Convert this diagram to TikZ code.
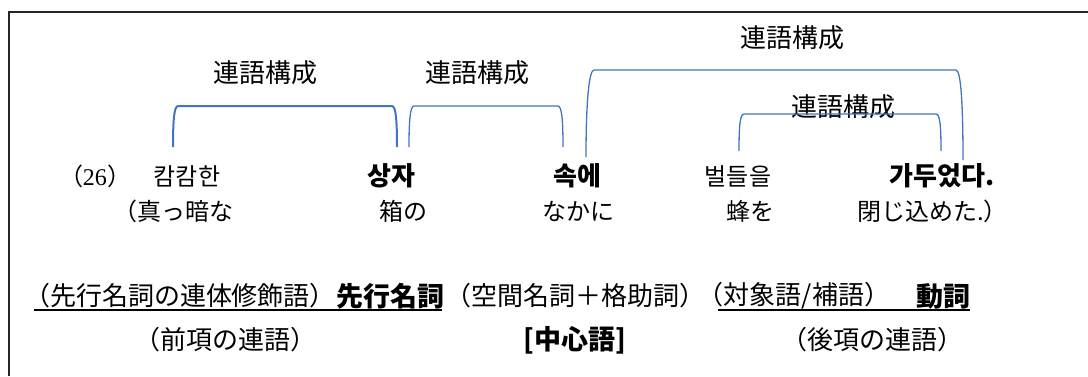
\documentclass[tikz,border=0pt]{standalone}
\usepackage{fontspec}
\newfontfamily\jp{Noto Sans CJK JP}
\newfontfamily\kr{Noto Sans CJK KR}
\newfontfamily\ser{Liberation Serif}
\definecolor{brblue}{HTML}{4472C4}
\begin{document}
\begin{tikzpicture}[x=1pt,y=-1pt,
  lbl/.style={inner sep=0pt, font=\jp\fontsize{26}{26}\selectfont},
  krr/.style={inner sep=0pt, font=\kr\fontsize{24}{24}\selectfont},
  krb/.style={inner sep=0pt, font=\kr\bfseries\fontsize{26}{26}\selectfont},
  jpt/.style={inner sep=0pt, font=\jp\fontsize{24}{24}\selectfont},
  jpr/.style={inner sep=0pt, font=\jp\fontsize{26}{26}\selectfont},
  jpb/.style={inner sep=0pt, font=\jp\bfseries\fontsize{27}{27}\selectfont},
  brk/.style={draw=brblue, line width=1.3pt},
  uline/.style={line width=1.8pt},
  frame/.style={line width=1.3pt, draw=black!85}]
\useasboundingbox (0,0) rectangle (1088,376);
% frame
\coordinate (fb) at (9,376); \coordinate (fc) at (9,12); \coordinate (fr) at (1088,12);
\draw[frame] (fb) -- (fc) -- (fr);
% labels
\node[lbl] (l1) at (265,73) {連語構成};
\node[lbl] (l2) at (477,73) {連語構成};
\node[lbl] (l3) at (792,38) {連語構成};
\node[lbl] (l4) at (843,107) {連語構成};
% brackets
\coordinate (b1a) at (173,147); \coordinate (b1b) at (178,106);
\coordinate (b1c) at (392,106); \coordinate (b1d) at (397,147);
\draw[brk, line width=2pt] (b1a) .. controls +(0,-25) and +(-4,0) .. (b1b) -- (b1c) .. controls +(4,0) and +(0,-25) .. (b1d);
\coordinate (b2a) at (409,147); \coordinate (b2b) at (414,106);
\coordinate (b2c) at (558,106); \coordinate (b2d) at (563,147);
\draw[brk] (b2a) .. controls +(0,-25) and +(-4,0) .. (b2b) -- (b2c) .. controls +(4,0) and +(0,-25) .. (b2d);
\coordinate (b3a) at (586,157); \coordinate (b3b) at (594,70);
\coordinate (b3c) at (956,70); \coordinate (b3d) at (963,160);
\draw[brk] (b3a) .. controls +(0,-55) and +(-5,0) .. (b3b) -- (b3c) .. controls +(5,0) and +(0,-55) .. (b3d);
\coordinate (b4a) at (739,151); \coordinate (b4b) at (744,114);
\coordinate (b4c) at (936,114); \coordinate (b4d) at (941,151);
\draw[brk] (b4a) .. controls +(0,-25) and +(-4,0) .. (b4b) -- (b4c) .. controls +(4,0) and +(0,-25) .. (b4d);
% row 1
\node[jpt] (w0) at (95,176) {（{\ser 26}）};
\node[krr] (w1) at (187,176) {캄캄한};
\node[krb] (w2) at (391,176) {상자};
\node[krb] (w3) at (577,176) {속에};
\node[krr] (w4) at (738,176) {벌들을};
\node[krb] (w5) at (942,176) {가두었다.};
% row 2
\node[jpt] (g1) at (173,211) {（真っ暗な};
\node[jpt] (g2) at (403,211) {箱の};
\node[jpt] (g3) at (578,211) {なかに};
\node[jpt] (g4) at (750,211) {蜂を};
\node[jpt, anchor=west] (g5) at (857,211) {閉じ込めた.）};
% row 3
\node[jpr] (c1) at (180,296) {（先行名詞の連体修飾語）};
\node[jpb] (c2) at (390,296) {先行名詞};
\node[jpr] (c3) at (575,296) {（空間名詞＋格助詞）};
\node[jpr] (c4) at (794,296) {（対象語/補語）};
\node[jpb] (c5) at (943,296) {動詞};
\coordinate (u1a) at (34,310); \coordinate (u1b) at (442,310);
\coordinate (u2a) at (718,310); \coordinate (u2b) at (970,310);
\draw[uline] (u1a) -- (u1b);
\draw[uline] (u2a) -- (u2b);
% row 4
\node[jpr] (d1) at (225,340) {（前項の連語）};
\node[jpb] (d2) at (575,340) {[中心語]};
\node[jpr] (d3) at (872,340) {（後項の連語）};
\end{tikzpicture}
\end{document}
